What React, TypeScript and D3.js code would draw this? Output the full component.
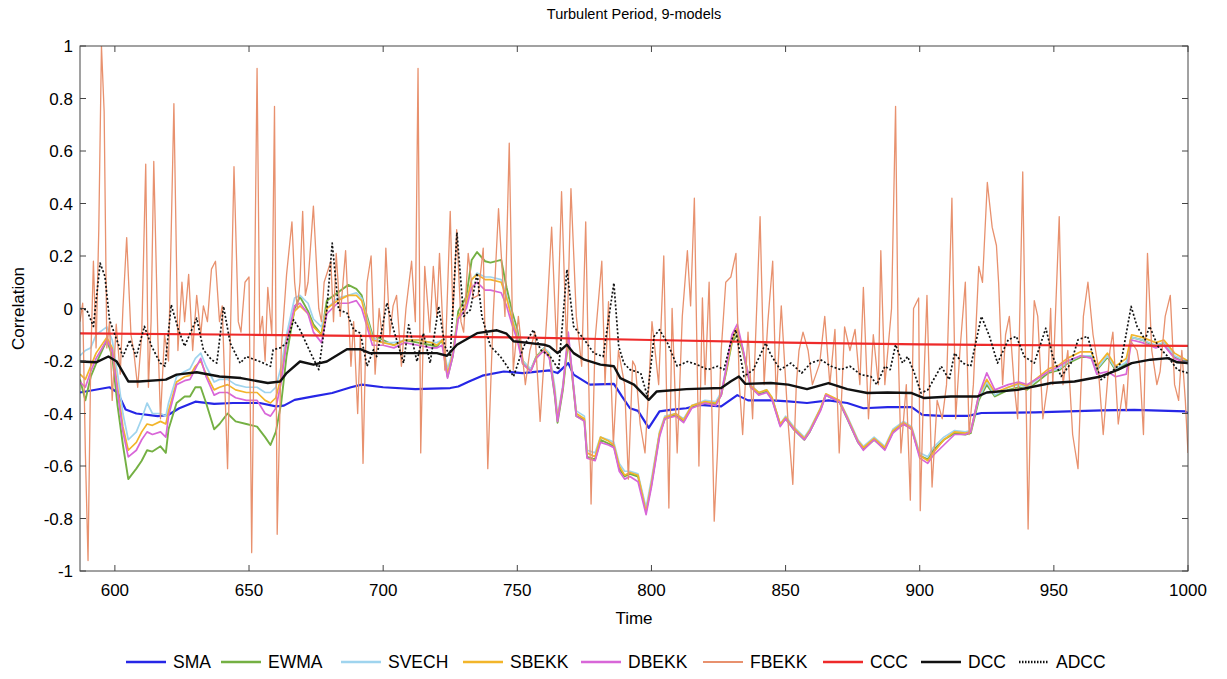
import React from "react";
import * as d3 from "d3";

// ---------- data ----------
const titleText = "Turbulent Period, 9-models";
const xTicks = [600, 650, 700, 750, 800, 850, 900, 950, 1000];
const yTicks = [-1, -0.8, -0.6, -0.4, -0.2, 0, 0.2, 0.4, 0.6, 0.8, 1];
const yTickLabels = ["-1", "-0.8", "-0.6", "-0.4", "-0.2", "0", "0.2", "0.4", "0.6", "0.8", "1"];
const xDomain = [587, 1000];

// shared time grid for the GARCH-type models
const garchTime = [
  587, 589, 591, 593, 597, 599, 601, 603, 605, 608,
  610, 612, 614, 617, 619, 620, 623, 626, 628, 630,
  632, 634, 637, 639, 642, 645, 649, 653, 656, 658,
  660, 662, 664, 667, 669, 672, 674, 677, 679, 683,
  687, 690, 692, 694, 696, 700, 704, 708, 713, 718,
  720, 722, 724, 726, 728, 731, 733, 735, 738, 740,
  744, 746, 748, 750, 752, 755, 757, 760, 762, 764,
  765, 767, 769, 770, 772, 775, 776, 779, 781, 784,
  786, 788, 790, 792, 795, 798, 800, 803, 805, 809,
  812, 815, 820, 824, 826, 828, 830, 832, 834, 837,
  840, 843, 845, 848, 850, 853, 857, 859, 863, 865,
  870, 873, 877, 879, 883, 887, 890, 894, 897, 900,
  903, 905, 909, 913, 917, 919, 922, 925, 928, 933,
  937, 940, 945, 948, 952, 955, 960, 964, 966, 970,
  973, 977, 979, 983, 988, 991, 995, 1000,
];

const ewma = [
  -0.27, -0.35, -0.26, -0.21, -0.12, -0.18, -0.37, -0.52, -0.65, -0.61,
  -0.58, -0.54, -0.545, -0.525, -0.55, -0.46, -0.36, -0.335, -0.335, -0.30,
  -0.30, -0.36, -0.46, -0.44, -0.40, -0.43, -0.44, -0.45, -0.49, -0.52,
  -0.47, -0.36, -0.18, 0.0, 0.045, -0.01, -0.06, -0.10, 0.03, 0.06,
  0.09, 0.075, 0.05, -0.03, -0.10, -0.12, -0.14, -0.12, -0.13, -0.14,
  -0.145, -0.12, -0.26, -0.18, -0.01, 0.045, 0.185, 0.215, 0.18, 0.175,
  0.185, 0.08, -0.01, -0.08, -0.20, -0.235, -0.185, -0.15, -0.185, -0.335,
  -0.435, -0.31, -0.12, -0.21, -0.41, -0.425, -0.565, -0.575, -0.50, -0.515,
  -0.525, -0.61, -0.64, -0.63, -0.64, -0.77, -0.67, -0.48, -0.42, -0.405,
  -0.43, -0.375, -0.36, -0.365, -0.33, -0.235, -0.13, -0.10, -0.16, -0.30,
  -0.325, -0.315, -0.345, -0.445, -0.42, -0.46, -0.50, -0.47, -0.385, -0.33,
  -0.355, -0.42, -0.51, -0.535, -0.50, -0.535, -0.47, -0.44, -0.46, -0.56,
  -0.575, -0.54, -0.50, -0.475, -0.48, -0.475, -0.35, -0.29, -0.335, -0.31,
  -0.30, -0.31, -0.27, -0.245, -0.235, -0.21, -0.185, -0.185, -0.235, -0.185,
  -0.235, -0.21, -0.11, -0.12, -0.145, -0.13, -0.185, -0.21,
];

const svech = [
  -0.18, -0.16, -0.15, -0.10, -0.07, -0.12, -0.25, -0.40, -0.50, -0.47,
  -0.42, -0.36, -0.40, -0.40, -0.41, -0.36, -0.26, -0.24, -0.23, -0.19,
  -0.17, -0.22, -0.28, -0.27, -0.27, -0.29, -0.30, -0.30, -0.32, -0.32,
  -0.30, -0.22, -0.10, 0.04, 0.05, 0.02, -0.04, -0.07, 0.0, 0.04,
  0.05, 0.06, 0.04, -0.04, -0.11, -0.13, -0.13, -0.12, -0.12, -0.13,
  -0.13, -0.12, -0.23, -0.16, -0.03, 0.02, 0.11, 0.135, 0.12, 0.12,
  0.11, 0.05, -0.03, -0.10, -0.20, -0.23, -0.19, -0.15, -0.17, -0.30,
  -0.41, -0.29, -0.10, -0.20, -0.39, -0.41, -0.54, -0.55, -0.49, -0.50,
  -0.51, -0.59, -0.62, -0.62, -0.63, -0.76, -0.65, -0.47, -0.41, -0.40,
  -0.42, -0.37, -0.35, -0.355, -0.32, -0.22, -0.12, -0.08, -0.15, -0.29,
  -0.32, -0.31, -0.34, -0.44, -0.41, -0.45, -0.49, -0.46, -0.38, -0.33,
  -0.35, -0.41, -0.50, -0.525, -0.49, -0.525, -0.46, -0.43, -0.45, -0.55,
  -0.565, -0.53, -0.49, -0.465, -0.47, -0.465, -0.34, -0.28, -0.33, -0.30,
  -0.29, -0.30, -0.26, -0.24, -0.23, -0.205, -0.18, -0.18, -0.23, -0.18,
  -0.23, -0.205, -0.11, -0.12, -0.14, -0.13, -0.18, -0.205,
];

const sbekk = [
  -0.25, -0.27, -0.22, -0.17, -0.11, -0.15, -0.30, -0.45, -0.54, -0.51,
  -0.47, -0.44, -0.445, -0.43, -0.44, -0.39, -0.28, -0.26, -0.255, -0.22,
  -0.20, -0.25, -0.31, -0.30, -0.29, -0.31, -0.32, -0.32, -0.35, -0.36,
  -0.34, -0.26, -0.12, -0.01, 0.01, -0.02, -0.07, -0.10, 0.0, 0.03,
  0.05, 0.05, 0.03, -0.05, -0.12, -0.13, -0.14, -0.12, -0.12, -0.13,
  -0.14, -0.12, -0.25, -0.17, -0.03, 0.02, 0.11, 0.13, 0.11, 0.11,
  0.10, 0.04, -0.04, -0.11, -0.21, -0.24, -0.19, -0.155, -0.18, -0.32,
  -0.42, -0.30, -0.11, -0.21, -0.40, -0.42, -0.55, -0.565, -0.49, -0.505,
  -0.52, -0.60, -0.635, -0.625, -0.635, -0.775, -0.665, -0.475, -0.415, -0.40,
  -0.425, -0.37, -0.355, -0.36, -0.33, -0.23, -0.12, -0.075, -0.155, -0.295,
  -0.32, -0.31, -0.34, -0.44, -0.415, -0.455, -0.495, -0.465, -0.38, -0.325,
  -0.35, -0.415, -0.505, -0.53, -0.495, -0.53, -0.465, -0.435, -0.455, -0.56,
  -0.58, -0.55, -0.50, -0.47, -0.475, -0.47, -0.33, -0.27, -0.32, -0.30,
  -0.285, -0.295, -0.255, -0.23, -0.215, -0.19, -0.165, -0.165, -0.22, -0.17,
  -0.22, -0.19, -0.10, -0.11, -0.13, -0.12, -0.17, -0.20,
];

const dbekk = [
  -0.28, -0.30, -0.24, -0.19, -0.12, -0.16, -0.32, -0.47, -0.565, -0.54,
  -0.50, -0.47, -0.48, -0.47, -0.49, -0.41, -0.29, -0.275, -0.27, -0.23,
  -0.19, -0.26, -0.33, -0.32, -0.32, -0.34, -0.35, -0.35, -0.40, -0.41,
  -0.38, -0.28, -0.13, 0.01, 0.02, -0.02, -0.09, -0.13, -0.02, 0.02,
  0.02, 0.03, 0.0, -0.07, -0.14, -0.14, -0.15, -0.13, -0.14, -0.15,
  -0.15, -0.14, -0.265, -0.18, -0.04, 0.0, 0.08, 0.10, 0.07, 0.07,
  0.06, 0.01, -0.06, -0.12, -0.21, -0.24, -0.19, -0.16, -0.19, -0.33,
  -0.43, -0.30, -0.09, -0.20, -0.41, -0.43, -0.57, -0.58, -0.51, -0.52,
  -0.53, -0.62, -0.65, -0.64, -0.66, -0.785, -0.68, -0.49, -0.42, -0.41,
  -0.435, -0.38, -0.36, -0.37, -0.33, -0.22, -0.10, -0.06, -0.15, -0.30,
  -0.33, -0.32, -0.35, -0.45, -0.42, -0.46, -0.50, -0.47, -0.39, -0.33,
  -0.355, -0.42, -0.51, -0.54, -0.50, -0.54, -0.475, -0.44, -0.46, -0.57,
  -0.59, -0.56, -0.52, -0.48, -0.48, -0.47, -0.33, -0.245, -0.31, -0.29,
  -0.28, -0.29, -0.26, -0.24, -0.22, -0.20, -0.18, -0.19, -0.25, -0.24,
  -0.26, -0.25, -0.12, -0.13, -0.15, -0.14, -0.19, -0.21,
];

// [time, value] pairs for the remaining models
const sma: [number, number][] = [
  [587, -0.32], [598, -0.30], [601, -0.32], [604, -0.385], [608, -0.40], [616, -0.41],
  [620, -0.405], [624, -0.38], [630, -0.355], [637, -0.363], [644, -0.36], [654, -0.36],
  [660, -0.373], [663, -0.37], [667, -0.348], [674, -0.335], [681, -0.322], [688, -0.30],
  [692, -0.29], [700, -0.30], [712, -0.307], [725, -0.303], [728, -0.297], [732, -0.278],
  [737, -0.256], [745, -0.24], [752, -0.246], [762, -0.236], [765, -0.246], [769, -0.208],
  [771, -0.252], [777, -0.29], [786, -0.287], [789, -0.335], [792, -0.38], [795, -0.39],
  [799, -0.455], [803, -0.392], [807, -0.386], [813, -0.38], [818, -0.367], [826, -0.373],
  [832, -0.33], [836, -0.35], [845, -0.35], [851, -0.354], [858, -0.36], [866, -0.35],
  [873, -0.36], [879, -0.38], [888, -0.376], [897, -0.376], [901, -0.405], [908, -0.409],
  [918, -0.409], [923, -0.398], [943, -0.396], [968, -0.388], [980, -0.386], [999, -0.392],
  [1000, -0.40],
];

const fbekk: [number, number][] = [
  [587, -0.05], [588, 0.02], [589, -0.55], [590, -0.96], [591, -0.2], [592, 0.18], [593, -0.15],
  [594, 0.3], [595, 1.0], [596, 0.75], [597, -0.15], [598, -0.05], [599, -0.35], [600.5, -0.06],
  [602, -0.25], [603, 0.0], [604.4, 0.27], [606, -0.1], [607, -0.16], [608.5, -0.3], [610, -0.1],
  [611.5, 0.55], [612.5, -0.3], [613.5, -0.05], [614.5, 0.56], [616, -0.1], [617, -0.42],
  [618.5, -0.1], [620, -0.2], [622, 0.78], [623.5, -0.16], [625, 0.1], [626, -0.05], [627.5, 0.13],
  [629, -0.16], [630.5, 0.05], [632, -0.1], [633, 0.01], [634.5, -0.05], [636, 0.15], [637.5, 0.18],
  [639, -0.05], [640, 0.01], [642, -0.61], [644.4, 0.54], [646, -0.05], [647, -0.09], [648.5, 0.1],
  [650, 0.12], [651, -0.93], [653, 0.915], [654, -0.1], [655, -0.03], [656, -0.2], [657, 0.08],
  [658.5, -0.1], [659.5, 0.77], [660.5, -0.86], [662, -0.16], [664, 0.13], [666, 0.33], [667, 0.1],
  [668, 0.0], [669, 0.1], [670, 0.37], [671, 0.05], [672, 0.1], [674, 0.39], [676, 0.0],
  [677, -0.05], [678, 0.1], [680.5, 0.18], [681.5, -0.05], [682.5, 0.21], [684, -0.03], [686, 0.22],
  [688, -0.22], [689, -0.05], [690.5, -0.4], [691.5, -0.1], [692.5, -0.59], [694, 0.1], [695.5, 0.2],
  [697, -0.25], [698.5, 0.0], [700, -0.14], [701, 0.23], [702.5, -0.1], [703.7, 0.01], [705, 0.05],
  [706.8, -0.22], [708.5, 0.0], [710.6, 0.18], [712, -0.05], [713, 0.915], [714, -0.55], [715.5, 0.16],
  [717.4, -0.09], [718.7, 0.16], [720, -0.03], [721, 0.21], [723, -0.235], [725, 0.37], [726, -0.03],
  [727.4, 0.3], [729, -0.05], [730, -0.09], [731.7, 0.21], [733.6, 0.04], [735.4, 0.05], [737.3, 0.23],
  [739, -0.61], [741, -0.03], [743, 0.38], [745.4, -0.03], [747, 0.63], [748.5, -0.235], [750.4, -0.03],
  [753, -0.29], [754.7, -0.16], [756.6, -0.09], [758.5, -0.43], [761, -0.03], [762.8, 0.31],
  [764.7, -0.16], [766.5, 0.445], [768.4, -0.16], [770, 0.457], [772, -0.03], [774, -0.22],
  [775.5, 0.33], [777.5, -0.745], [779, -0.12], [781.5, 0.18], [782.7, -0.29], [784, 0.026],
  [785.8, -0.52], [787.7, -0.16], [790, -0.29], [791.4, -0.65], [793, -0.2], [794, -0.22],
  [795.8, -0.44], [797.6, -0.55], [799, -0.3], [800.2, -0.05], [802.7, -0.29], [804.6, 0.2],
  [806.5, -0.76], [807.7, 0.0], [809.6, -0.55], [811.5, -0.03], [813.4, 0.22], [814.6, 0.01],
  [816, 0.42], [817.7, -0.6], [819, 0.04], [820, -0.29], [821.5, 0.1], [823.4, -0.81], [824.6, -0.55],
  [826, -0.16], [827.7, 0.1], [829.6, 0.12], [831.5, 0.21], [832.7, -0.28], [834, -0.48], [836, -0.09],
  [837.7, -0.42], [840.5, 0.35], [842, -0.29], [843.4, -0.05], [845.2, 0.18], [846.5, -0.35],
  [848.4, 0.01], [850.9, -0.43], [852.7, -0.67], [854, -0.29], [855, -0.16], [856.5, -0.09],
  [858.4, -0.16], [860, -0.29], [862.7, -0.21], [864.6, -0.03], [866.5, -0.29], [868.4, -0.08],
  [870, -0.55], [872, -0.07], [874, -0.16], [875.9, -0.08], [877.7, -0.29], [879, 0.08], [880.9, -0.42],
  [882.7, -0.1], [884.6, -0.29], [885.5, 0.22], [887, -0.29], [889.5, 0.0], [891, 0.77], [892, -0.16],
  [893, -0.55], [895, -0.29], [896.5, -0.73], [897.7, 0.0], [899.6, 0.04], [900.2, -0.77], [901.5, -0.29],
  [902.7, 0.05], [904.6, -0.68], [906.5, -0.35], [908.4, -0.42], [910, -0.29], [912, 0.42], [913.4, -0.42],
  [915, -0.16], [917, 0.1], [918.4, -0.48], [920, -0.29], [922, 0.16], [923.4, 0.1], [925.2, 0.48],
  [927, 0.31], [928.6, 0.24], [929.4, 0.1], [930.9, -0.29], [932, -0.1], [933.4, -0.03], [935.2, -0.29],
  [936.5, -0.42], [938.4, 0.52], [940.4, -0.84], [941.5, -0.29], [942.7, 0.03], [944, -0.03],
  [945.9, -0.42], [947.7, -0.29], [948.8, 0.0], [949.6, -0.29], [952, 0.35], [953.4, -0.29],
  [955.2, -0.16], [957, -0.48], [959, -0.61], [961, -0.03], [962.7, 0.1], [964.6, -0.1], [966.5, -0.22],
  [968.4, -0.48], [970.9, -0.16], [972, -0.09], [974, -0.44], [976, -0.29], [977, -0.39], [978.4, -0.12],
  [981, -0.16], [982, -0.22], [983.4, -0.48], [984.9, 0.21], [986.5, -0.16], [988.4, -0.29],
  [989.6, -0.24], [991.5, -0.03], [993.4, 0.05], [995, -0.29], [996.5, -0.35], [997.7, -0.16],
  [999, -0.35], [1000, -0.55],
];

const ccc: [number, number][] = [
  [587, -0.095], [650, -0.1], [700, -0.105], [750, -0.11], [800, -0.12], [850, -0.13],
  [900, -0.137], [950, -0.14], [1000, -0.142],
];

const dcc: [number, number][] = [
  [587, -0.202], [593, -0.205], [597.6, -0.183], [600.7, -0.202], [605, -0.278], [609, -0.278],
  [619, -0.271], [623, -0.252], [630.5, -0.243], [639, -0.259], [647, -0.265], [657, -0.284],
  [661.6, -0.278], [664, -0.246], [669, -0.202], [674, -0.214], [679, -0.202], [686.5, -0.155],
  [691.5, -0.155], [695, -0.17], [712.6, -0.17], [720, -0.17], [723.8, -0.18], [727.5, -0.138],
  [735, -0.094], [742.4, -0.083], [746, -0.096], [748.6, -0.125], [754.8, -0.132], [760, -0.138],
  [762, -0.144], [765, -0.17], [768.5, -0.138], [771, -0.17], [775, -0.195], [781, -0.214],
  [786, -0.22], [788.4, -0.265], [793.5, -0.29], [799, -0.348], [802, -0.316], [813, -0.307],
  [826, -0.303], [829.5, -0.278], [832.6, -0.259], [835, -0.287], [844.5, -0.284], [851, -0.29],
  [858, -0.307], [866, -0.284], [873, -0.307], [880.5, -0.322], [888, -0.32], [897, -0.322],
  [901.7, -0.341], [911.6, -0.335], [921.6, -0.335], [925, -0.32], [936.5, -0.31], [949, -0.284],
  [957.7, -0.278], [967.6, -0.259], [974, -0.233], [979, -0.208], [986, -0.195], [992.5, -0.189],
  [996, -0.205], [1000, -0.208],
];

const adcc: [number, number][] = [
  [587, 0.0], [589.5, -0.005], [592, -0.068], [594.5, 0.173], [596.3, 0.122], [598, -0.043],
  [600.7, -0.12], [603, -0.183], [605.6, -0.12], [608, -0.183], [611, -0.068], [613.7, -0.144],
  [616.9, -0.208], [618.7, -0.22], [621, 0.014], [623.7, -0.081], [626, -0.144], [630.5, -0.037],
  [633, -0.157], [636, -0.195], [638, -0.208], [640.5, 0.008], [643, -0.132], [646.7, -0.208],
  [649, -0.183], [654, -0.202], [658, -0.22], [659, -0.157], [661.6, -0.15], [664, -0.132],
  [666.6, -0.043], [669, -0.081], [673, -0.17], [676, -0.233], [679, -0.005], [681, 0.249],
  [683.4, -0.005], [686.5, -0.017], [689, -0.081], [691.5, -0.094], [694, -0.22], [696.4, -0.157],
  [697.6, -0.183], [701.4, 0.021], [703.9, -0.081], [707.6, -0.208], [709.5, -0.062], [712.6, -0.202],
  [715, -0.094], [717.5, -0.208], [720.7, 0.008], [723, -0.144], [725, -0.183], [727.5, 0.29],
  [730, -0.03], [732.5, -0.005], [735, 0.135], [736.8, -0.03], [740, -0.144], [743.7, -0.183],
  [746.2, -0.22], [748.6, -0.259], [752.4, -0.144], [756, -0.081], [758.6, -0.157], [762.3, -0.183],
  [765.4, -0.233], [768.5, 0.148], [771, -0.068], [775, -0.119], [778.5, -0.17], [782, -0.183],
  [786, 0.097], [787.8, -0.144], [789.7, -0.208], [792, -0.233], [796, -0.246], [798.5, -0.335],
  [801, -0.106], [803, -0.081], [806, -0.132], [809.6, -0.22], [813.4, -0.202], [817, -0.214],
  [821, -0.233], [824.6, -0.22], [827, -0.233], [829.5, -0.132], [831.4, -0.081], [834.5, -0.259],
  [838, -0.233], [842.6, -0.132], [844.5, -0.176], [848, -0.233], [852, -0.208], [856, -0.246],
  [859.4, -0.208], [863, -0.195], [867, -0.22], [870.6, -0.233], [874, -0.22], [878, -0.252],
  [881.8, -0.259], [884, -0.29], [887, -0.22], [889, -0.233], [891, -0.138], [893.6, -0.208],
  [895.5, -0.183], [898, -0.246], [900.5, -0.322], [903, -0.31], [908, -0.22], [911, -0.271],
  [913, -0.17], [916, -0.208], [919, -0.22], [923, -0.03], [926, -0.106], [929, -0.208],
  [933, -0.119], [936, -0.106], [939, -0.183], [942.7, -0.208], [947, -0.075], [949.6, -0.183],
  [952.7, -0.259], [956.4, -0.208], [959, -0.119], [962.6, -0.106], [965, -0.195], [967.6, -0.271],
  [971, -0.246], [975, -0.208], [978.8, 0.008], [981, -0.068], [984, -0.119], [985.7, -0.068],
  [988.8, -0.144], [992.5, -0.183], [996, -0.233], [1000, -0.246],
];

const seriesNames = ["SMA", "EWMA", "SVECH", "SBEKK", "DBEKK", "FBEKK", "CCC", "DCC", "ADCC"];

// ---------- styles ----------
const W = 1227;
const H = 679;
const M = { left: 80, right: 1188, top: 46, bottom: 571 };
const FONT = "'Liberation Sans', Arial, Helvetica, sans-serif";

const styles: Record<string, { color: string; width: number; dash?: string }> = {
  SMA: { color: "#2626e6", width: 2.2 },
  EWMA: { color: "#74b043", width: 1.9 },
  SVECH: { color: "#9fd4ee", width: 1.7 },
  SBEKK: { color: "#f2b52a", width: 1.7 },
  DBEKK: { color: "#d866d8", width: 1.7 },
  FBEKK: { color: "#e8916e", width: 1.3 },
  CCC: { color: "#ee2a2a", width: 2.2 },
  DCC: { color: "#111111", width: 2.4 },
  ADCC: { color: "#111111", width: 1.7, dash: "2,2" },
};

const legendLineX = [126, 221, 341, 463, 581, 703, 823, 921, 1019];

export default function App() {
  const x = d3.scaleLinear().domain(xDomain).range([M.left, M.right]);
  const y = d3.scaleLinear().domain([-1, 1]).range([M.bottom, M.top]);
  const line = d3
    .line<[number, number]>()
    .x((d) => x(d[0]))
    .y((d) => y(d[1]));

  const onGrid = (vals: number[]) =>
    garchTime.map((t, i) => [t, vals[i]] as [number, number]).filter((d) => d[1] !== undefined);

  const seriesData: Record<string, [number, number][]> = {
    SMA: sma,
    EWMA: onGrid(ewma),
    SVECH: onGrid(svech),
    SBEKK: onGrid(sbekk),
    DBEKK: onGrid(dbekk),
    FBEKK: fbekk,
    CCC: ccc,
    DCC: dcc,
    ADCC: adcc,
  };

  const tickLen = 6;
  const plotW = M.right - M.left;
  const plotH = M.bottom - M.top;

  return (
    <svg
      width={W}
      height={H}
      style={{ position: "absolute", left: 0, top: 0, background: "#fff" }}
      fontFamily={FONT}
    >
      <rect x={0} y={0} width={W} height={H} fill="#fff" />
      <defs>
        <clipPath id="plotClip">
          <rect x={M.left} y={M.top} width={plotW} height={plotH} />
        </clipPath>
      </defs>

      <text x={634} y={19} textAnchor="middle" fontSize={14.5} fill="#000">
        {titleText}
      </text>

      <g clipPath="url(#plotClip)">
        {seriesNames.map((name) => (
          <path
            key={name}
            d={line(seriesData[name]) || ""}
            fill="none"
            stroke={styles[name].color}
            strokeWidth={styles[name].width}
            strokeDasharray={styles[name].dash}
            strokeLinejoin="round"
          />
        ))}
      </g>

      {/* frame */}
      <rect x={M.left} y={M.top} width={plotW} height={plotH} fill="none" stroke="#444" strokeWidth={1} />

      {/* x ticks */}
      {xTicks.map((t) => (
        <g key={"xt" + t}>
          <line x1={x(t)} x2={x(t)} y1={M.bottom} y2={M.bottom - tickLen} stroke="#444" />
          <line x1={x(t)} x2={x(t)} y1={M.top} y2={M.top + tickLen} stroke="#444" />
          <text x={x(t)} y={M.bottom + 25} textAnchor="middle" fontSize={17} fill="#000">
            {t}
          </text>
        </g>
      ))}

      {/* y ticks */}
      {yTicks.map((v, i) => (
        <g key={"yt" + i}>
          <line x1={M.left} x2={M.left + tickLen} y1={y(v)} y2={y(v)} stroke="#444" />
          <line x1={M.right} x2={M.right - tickLen} y1={y(v)} y2={y(v)} stroke="#444" />
          <text x={M.left - 7} y={y(v) + 6} textAnchor="end" fontSize={17} fill="#000">
            {yTickLabels[i]}
          </text>
        </g>
      ))}

      <text x={634} y={624} textAnchor="middle" fontSize={17} fill="#000">
        Time
      </text>
      <text
        transform={`translate(24, ${(M.top + M.bottom) / 2}) rotate(-90)`}
        textAnchor="middle"
        fontSize={17}
        fill="#000"
      >
        Correlation
      </text>

      {/* legend */}
      {seriesNames.map((name, i) => {
        const x0 = legendLineX[i];
        const len = name === "ADCC" ? 30 : 40;
        return (
          <g key={"lg" + name}>
            <line
              x1={x0}
              x2={x0 + len}
              y1={662}
              y2={662}
              stroke={styles[name].color}
              strokeWidth={name === "FBEKK" ? 2 : 2.4}
              strokeDasharray={styles[name].dash ? "1.5,1.5" : undefined}
            />
            <text x={x0 + len + 7} y={668} fontSize={17.5} fill="#000">
              {name}
            </text>
          </g>
        );
      })}
    </svg>
  );
}
